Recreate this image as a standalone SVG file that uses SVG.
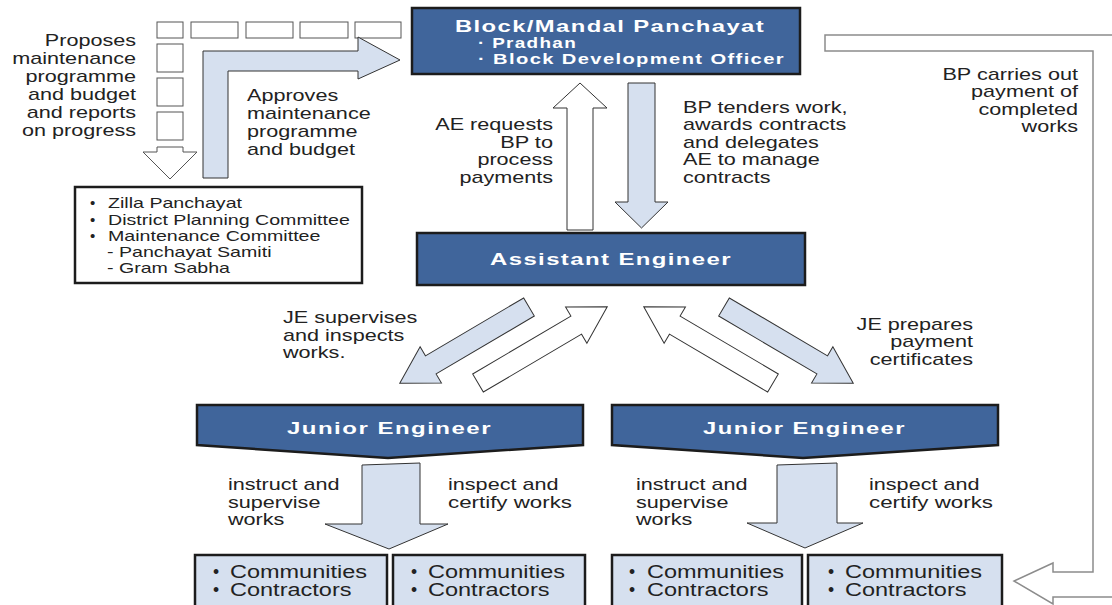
<svg xmlns="http://www.w3.org/2000/svg" xmlns:xlink="http://www.w3.org/1999/xlink" width="1112" height="605" viewBox="0 0 1112 605">
<style>
.t{font-family:"Liberation Sans",Arial,Helvetica,sans-serif;font-size:17px;fill:#222}
.tz{font-family:"Liberation Sans",Arial,Helvetica,sans-serif;font-size:15px;fill:#222}
.tc{font-family:"Liberation Sans",Arial,Helvetica,sans-serif;font-size:17.5px;fill:#222}
.b{font-family:"Liberation Sans",Arial,Helvetica,sans-serif;font-weight:bold;fill:#fff;letter-spacing:1px}
.dark{fill:#40659b;stroke:#1c1c1c;stroke-width:2.5}
.lite{fill:#d6e0ef;stroke:#333;stroke-width:1}
.wht{fill:#fff;stroke:#333;stroke-width:1}
.box{fill:#fff;stroke:#1c1c1c;stroke-width:2.5}
.cbox{fill:#d6e0ef;stroke:#1c1c1c;stroke-width:2.5}
.dash{fill:#fff;stroke:#555;stroke-width:1}
.frame{fill:#fff;stroke:#8c8c8c;stroke-width:1.5}
</style>
<defs>
<path id="diag" d="M0,-10.5 H114 V-21 L150,0 L114,21 V10.5 H0 Z"/>
</defs>
<rect width="1112" height="605" fill="#fff"/>

<g id="connectors">
  <!-- right frame arrow: BP pays completed works -->
  <path class="frame" d="M825,35 H1116 V597 H1053 V604 L1014,581 L1053,563 V572 H1093 V51 H825 Z"/>
  <!-- segmented proposal arrow -->
  <g id="proposal-arrow">
    <rect class="dash" x="157" y="22" width="26" height="16"/>
    <rect class="dash" x="191" y="22" width="47" height="16"/>
    <rect class="dash" x="246" y="22" width="47" height="16"/>
    <rect class="dash" x="300" y="22" width="48" height="16"/>
    <rect class="dash" x="355" y="22" width="46" height="16"/>
    <rect class="dash" x="157" y="44" width="26" height="28"/>
    <rect class="dash" x="157" y="78" width="26" height="28"/>
    <rect class="dash" x="157" y="112" width="26" height="28"/>
    <path class="dash" d="M157,147 H183 V152 H197 L170,179 L143,152 H157 Z"/>
  </g>
  <!-- approval L arrow -->
  <path class="lite" d="M203,178 V51 H358 V37 L400,60 L358,79 V71 H228 V178 Z"/>
  <!-- AE -> BP up arrow -->
  <path class="wht" d="M567,230 V108 H553 L580,83 L607,108 H593 V230 Z"/>
  <!-- BP -> AE down arrow -->
  <path class="lite" d="M628,83 H655 V202 H668 L641.5,228 L615,202 H628 Z"/>
  <!-- diagonal arrows -->
  <use xlink:href="#diag" class="lite" transform="translate(529,307) rotate(149.5)"/>
  <use xlink:href="#diag" class="wht" transform="translate(478,383) rotate(-30.5)"/>
  <use xlink:href="#diag" class="wht" transform="translate(773,383) rotate(-149.5)"/>
  <use xlink:href="#diag" class="lite" transform="translate(724,307) rotate(30.5)"/>
  <!-- JE -> communities arrows -->
  <path class="lite" d="M362,465 L420,463 V524 H448 L389,549 L325,524 H362 Z"/>
  <path class="lite" d="M777,465 L837,463 V523 H863 L805,548 L747,523 H777 Z"/>

  <!-- labels -->
  <g id="labels">
    <text class="t" x="44.8" y="45.5" textLength="91.2" lengthAdjust="spacingAndGlyphs">Proposes</text>
    <text class="t" x="12.3" y="63.5" textLength="123.7" lengthAdjust="spacingAndGlyphs">maintenance</text>
    <text class="t" x="25.6" y="81.5" textLength="110.4" lengthAdjust="spacingAndGlyphs">programme</text>
    <text class="t" x="27.9" y="99.5" textLength="108.1" lengthAdjust="spacingAndGlyphs">and budget</text>
    <text class="t" x="26.7" y="117.5" textLength="109.3" lengthAdjust="spacingAndGlyphs">and reports</text>
    <text class="t" x="22" y="135.5" textLength="114" lengthAdjust="spacingAndGlyphs">on progress</text>

    <text class="t" x="247" y="101" textLength="91.2" lengthAdjust="spacingAndGlyphs">Approves</text>
    <text class="t" x="247" y="119" textLength="123.7" lengthAdjust="spacingAndGlyphs">maintenance</text>
    <text class="t" x="247" y="137" textLength="110.4" lengthAdjust="spacingAndGlyphs">programme</text>
    <text class="t" x="247" y="155" textLength="108.1" lengthAdjust="spacingAndGlyphs">and budget</text>

    <text class="t" x="435.3" y="130" textLength="117.7" lengthAdjust="spacingAndGlyphs">AE requests</text>
    <text class="t" x="500.2" y="147.5" textLength="52.8" lengthAdjust="spacingAndGlyphs">BP to</text>
    <text class="t" x="477.4" y="165" textLength="75.6" lengthAdjust="spacingAndGlyphs">process</text>
    <text class="t" x="459.4" y="182.5" textLength="93.6" lengthAdjust="spacingAndGlyphs">payments</text>

    <text class="t" x="683" y="112.5" textLength="164.5" lengthAdjust="spacingAndGlyphs">BP tenders work,</text>
    <text class="t" x="683" y="130" textLength="163.3" lengthAdjust="spacingAndGlyphs">awards contracts</text>
    <text class="t" x="683" y="147.5" textLength="135.7" lengthAdjust="spacingAndGlyphs">and delegates</text>
    <text class="t" x="683" y="165" textLength="136.9" lengthAdjust="spacingAndGlyphs">AE to manage</text>
    <text class="t" x="683" y="182.5" textLength="87.6" lengthAdjust="spacingAndGlyphs">contracts</text>

    <text class="t" x="942.4" y="79.5" textLength="135.6" lengthAdjust="spacingAndGlyphs">BP carries out</text>
    <text class="t" x="971.1" y="97" textLength="106.9" lengthAdjust="spacingAndGlyphs">payment of</text>
    <text class="t" x="978.4" y="114.5" textLength="99.6" lengthAdjust="spacingAndGlyphs">completed</text>
    <text class="t" x="1021.6" y="132" textLength="56.4" lengthAdjust="spacingAndGlyphs">works</text>

    <text class="t" x="283" y="323" textLength="134.4" lengthAdjust="spacingAndGlyphs">JE supervises</text>
    <text class="t" x="283" y="340.5" textLength="121.3" lengthAdjust="spacingAndGlyphs">and inspects</text>
    <text class="t" x="283" y="358" textLength="62.4" lengthAdjust="spacingAndGlyphs">works.</text>

    <text class="t" x="856.6" y="329.5" textLength="116.4" lengthAdjust="spacingAndGlyphs">JE prepares</text>
    <text class="t" x="890.2" y="347" textLength="82.8" lengthAdjust="spacingAndGlyphs">payment</text>
    <text class="t" x="869.8" y="364.5" textLength="103.2" lengthAdjust="spacingAndGlyphs">certificates</text>

    <text class="t" x="228" y="490" textLength="111.6" lengthAdjust="spacingAndGlyphs">instruct and</text>
    <text class="t" x="228" y="507.7" textLength="92.4" lengthAdjust="spacingAndGlyphs">supervise</text>
    <text class="t" x="228" y="525.4" textLength="56.4" lengthAdjust="spacingAndGlyphs">works</text>
    <text class="t" x="448" y="490" textLength="110.5" lengthAdjust="spacingAndGlyphs">inspect and</text>
    <text class="t" x="448" y="507.7" textLength="124" lengthAdjust="spacingAndGlyphs">certify works</text>

    <text class="t" x="636" y="490" textLength="111.6" lengthAdjust="spacingAndGlyphs">instruct and</text>
    <text class="t" x="636" y="507.7" textLength="92.4" lengthAdjust="spacingAndGlyphs">supervise</text>
    <text class="t" x="636" y="525.4" textLength="56.4" lengthAdjust="spacingAndGlyphs">works</text>
    <text class="t" x="869" y="490" textLength="110.5" lengthAdjust="spacingAndGlyphs">inspect and</text>
    <text class="t" x="869" y="507.7" textLength="124" lengthAdjust="spacingAndGlyphs">certify works</text>
  </g>
</g>

<g id="block-panchayat">
  <rect class="dark" x="412" y="8" width="388" height="66"/>
  <text class="b" x="455" y="31.5" font-size="17" textLength="310" lengthAdjust="spacingAndGlyphs">Block/Mandal Panchayat</text>
  <text class="b" x="478" y="47.5" font-size="14.5" textLength="99" lengthAdjust="spacingAndGlyphs">· Pradhan</text>
  <text class="b" x="478" y="63.5" font-size="14.5" textLength="307" lengthAdjust="spacingAndGlyphs">· Block Development Officer</text>
</g>

<g id="zilla">
  <rect class="box" x="75" y="187" width="287" height="96"/>
  <text class="tz" x="90" y="208">•</text>
  <text class="tz" x="90" y="224.7">•</text>
  <text class="tz" x="90" y="241">•</text>
  <text class="tz" x="108" y="208" textLength="134" lengthAdjust="spacingAndGlyphs">Zilla Panchayat</text>
  <text class="tz" x="108" y="224.7" textLength="241.8" lengthAdjust="spacingAndGlyphs">District Planning Committee</text>
  <text class="tz" x="108" y="241" textLength="212.4" lengthAdjust="spacingAndGlyphs">Maintenance Committee</text>
  <text class="tz" x="107" y="257.3" textLength="164.5" lengthAdjust="spacingAndGlyphs">- Panchayat Samiti</text>
  <text class="tz" x="107" y="273" textLength="123" lengthAdjust="spacingAndGlyphs">- Gram Sabha</text>
</g>

<g id="assistant-engineer">
  <rect class="dark" x="417" y="233" width="388" height="52"/>
  <text class="b" x="490" y="265" font-size="17" textLength="242" lengthAdjust="spacingAndGlyphs">Assistant Engineer</text>
</g>

<g id="junior-engineer-1">
  <path class="dark" d="M197,405 H583 V445 L388,458 L197,445 Z"/>
  <text class="b" x="287" y="434" font-size="16" textLength="205" lengthAdjust="spacingAndGlyphs">Junior Engineer</text>
</g>

<g id="junior-engineer-2">
  <path class="dark" d="M612,405 H998 V445 L803,458 L612,445 Z"/>
  <text class="b" x="703" y="434" font-size="16" textLength="203" lengthAdjust="spacingAndGlyphs">Junior Engineer</text>
</g>

<g id="communities-1">
  <rect class="cbox" x="195" y="555" width="192" height="60"/>
  <text class="tc" x="213" y="578">•</text>
  <text class="tc" x="213" y="596">•</text>
  <text class="tc" x="230" y="578" textLength="137" lengthAdjust="spacingAndGlyphs">Communities</text>
  <text class="tc" x="230" y="596" textLength="121.5" lengthAdjust="spacingAndGlyphs">Contractors</text>
</g>

<g id="communities-2">
  <rect class="cbox" x="393" y="555" width="192" height="60"/>
  <text class="tc" x="411" y="578">•</text>
  <text class="tc" x="411" y="596">•</text>
  <text class="tc" x="428" y="578" textLength="137" lengthAdjust="spacingAndGlyphs">Communities</text>
  <text class="tc" x="428" y="596" textLength="121.5" lengthAdjust="spacingAndGlyphs">Contractors</text>
</g>

<g id="communities-3">
  <rect class="cbox" x="612" y="555" width="190" height="60"/>
  <text class="tc" x="629" y="578">•</text>
  <text class="tc" x="629" y="596">•</text>
  <text class="tc" x="647" y="578" textLength="137" lengthAdjust="spacingAndGlyphs">Communities</text>
  <text class="tc" x="647" y="596" textLength="121.5" lengthAdjust="spacingAndGlyphs">Contractors</text>
</g>

<g id="communities-4">
  <rect class="cbox" x="808" y="555" width="194" height="60"/>
  <text class="tc" x="828" y="578">•</text>
  <text class="tc" x="828" y="596">•</text>
  <text class="tc" x="845" y="578" textLength="137" lengthAdjust="spacingAndGlyphs">Communities</text>
  <text class="tc" x="845" y="596" textLength="121.5" lengthAdjust="spacingAndGlyphs">Contractors</text>
</g>
</svg>
